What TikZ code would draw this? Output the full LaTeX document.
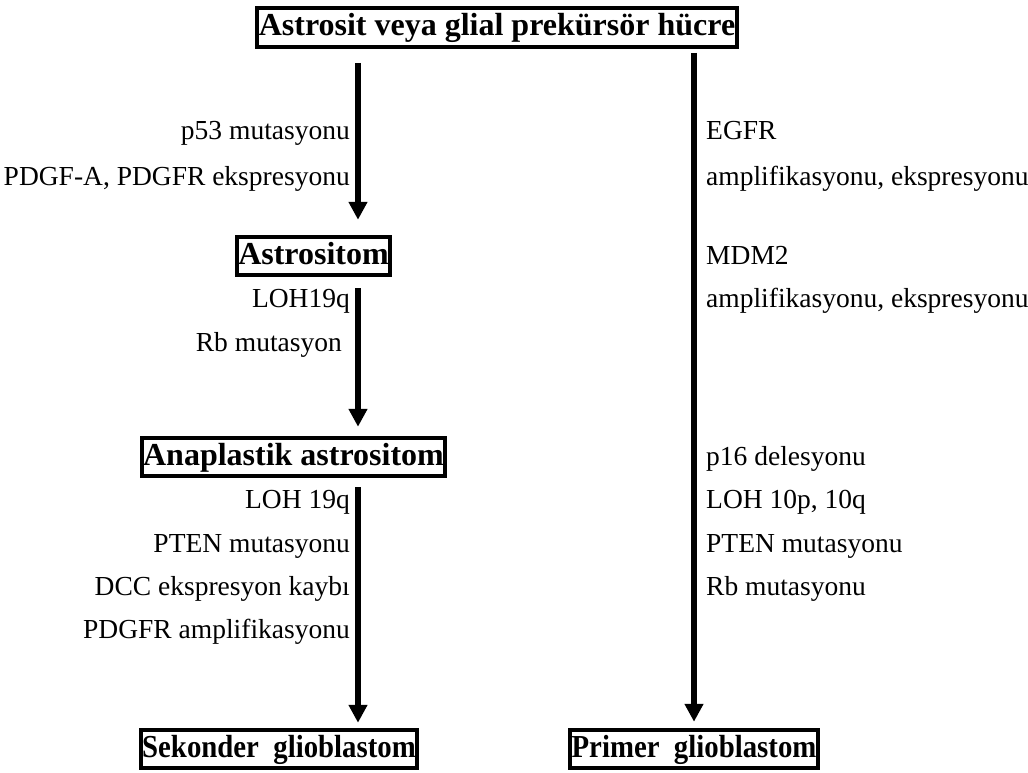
\documentclass[tikz,border=0pt]{standalone}
\usepackage{fontspec}
\usepackage{graphicx}
\setmainfont{Liberation Serif}
\usetikzlibrary{arrows.meta}
\tikzset{
  kutu/.style={draw,line width=4pt,inner xsep=1.5pt,inner ysep=4.25pt,text height=23pt,text depth=7pt,font=\fontsize{32}{36}\selectfont\bfseries},
  etiket/.style={inner sep=0pt,text height=22pt,text depth=6pt,font=\fontsize{27.5}{30}\selectfont},
  ok/.style={line width=6pt,-{Triangle[length=18pt,width=18pt]}}
}
\newcommand{\dar}[1]{\scalebox{0.9}[1]{#1}}
\begin{document}
\begin{tikzpicture}[x=1pt,y=-1pt]
\useasboundingbox (0,0) rectangle (1028,772);
% kutular
\node[kutu] (hucre) at (497,27.5) {Astrosit veya glial prekürsör hücre};
\node[kutu] (astro) at (313.5,256) {Astrositom};
\node[kutu] (anap) at (293.5,457) {Anaplastik astrositom};
\node[kutu] (sek) at (279,749) {\dar{Sekonder\ \ glioblastom}};
\node[kutu] (pri) at (694,749) {\dar{Primer\ \ glioblastom}};
% ok sütunları
\coordinate (sol) at (358,0);
\coordinate (sag) at (694,0);
% sol yol
\draw[ok] ([yshift=-14pt]hucre.south -| sol) -- ([yshift=15pt]astro.north -| sol);
\draw[ok] ([yshift=-11pt]astro.south -| sol) -- ([yshift=9pt]anap.north -| sol);
\draw[ok] ([yshift=-9pt]anap.south -| sol) -- ([yshift=5pt]sek.north -| sol);
% sağ yol
\draw[ok] ([yshift=-4pt]hucre.south -| sag) -- ([yshift=6pt]pri.north -| sag);
% sol etiketler
\node[etiket,anchor=east] (s1) at (350,131) {p53 mutasyonu};
\node[etiket,anchor=east] (s2) at (350,177) {PDGF-A, PDGFR ekspresyonu};
\node[etiket,anchor=east] (s3) at (350,299) {LOH19q};
\node[etiket,anchor=east] (s4) at (342,343) {Rb mutasyon};
\node[etiket,anchor=east] (s5) at (350,500) {LOH 19q};
\node[etiket,anchor=east] (s6) at (350,544) {PTEN mutasyonu};
\node[etiket,anchor=east] (s7) at (350,587) {DCC ekspresyon kaybı};
\node[etiket,anchor=east] (s8) at (350,630) {PDGFR amplifikasyonu};
% sağ etiketler
\node[etiket,anchor=west] (r1) at (706,131) {EGFR};
\node[etiket,anchor=west] (r2) at (706,177) {amplifikasyonu, ekspresyonu};
\node[etiket,anchor=west] (r3) at (706,256) {MDM2};
\node[etiket,anchor=west] (r4) at (706,299) {amplifikasyonu, ekspresyonu};
\node[etiket,anchor=west] (r5) at (706,457) {p16 delesyonu};
\node[etiket,anchor=west] (r6) at (706,500) {LOH 10p, 10q};
\node[etiket,anchor=west] (r7) at (706,544) {PTEN mutasyonu};
\node[etiket,anchor=west] (r8) at (706,587) {Rb mutasyonu};
\end{tikzpicture}
\end{document}
